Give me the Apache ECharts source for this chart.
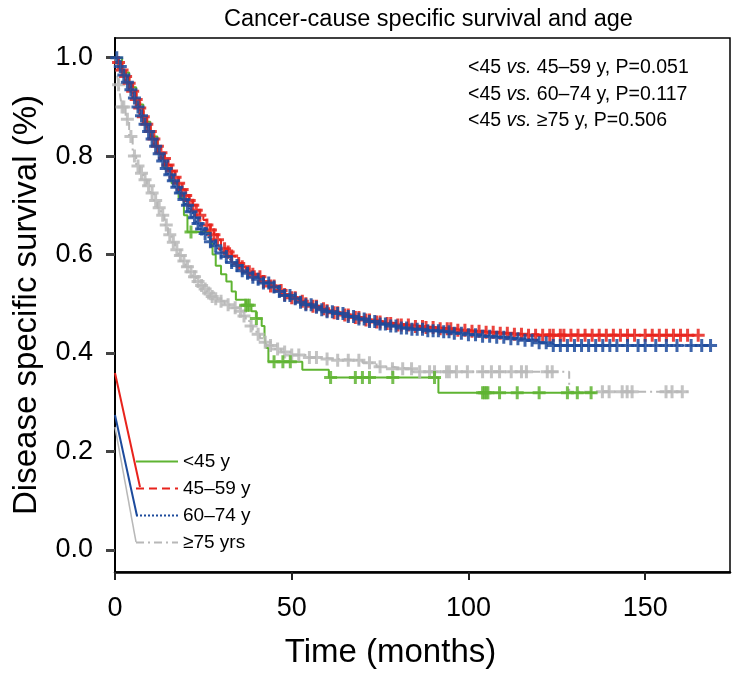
<html>
  <head>
    <meta charset="utf-8" />
    <title>Cancer-cause specific survival and age</title>
    <style>
      body { margin: 0; background: #fff; }
    </style>
  </head>
  <body>
    <div id="km" style="width: 734px; height: 675px"></div>
    <script src="https://cdn.jsdelivr.net/npm/echarts@6/dist/echarts.min.js"></script>
    <script type="text/javascript">
      // group names (legend)
      var groupNames = ["<45 y", "45\u201359 y", "60\u201374 y", "\u226575 yrs"];

      // Kaplan-Meier steps, [month, survival]
      var curveLt45 = [[0,1],[2,0.97],[4,0.94],[6,0.905],[8,0.87],[10,0.84],[12,0.805],[14,0.775],[16,0.745],[18,0.715],[19.5,0.68],[20.5,0.646],[27,0.622],[27.6,0.6],[28.5,0.577],[30,0.56],[31.5,0.545],[33,0.525],[34.2,0.508],[37,0.497],[38.6,0.485],[40,0.47],[41.5,0.455],[42.3,0.432],[42.8,0.41],[43.4,0.382],[53,0.366],[60.5,0.35],[91.5,0.319],[136,0.319]];
      var curve45to59 = [[0,1],[1,0.99],[2,0.975],[3,0.962],[4,0.948],[5,0.932],[6,0.915],[7,0.898],[8,0.88],[9,0.865],[10,0.85],[11,0.835],[12,0.82],[13,0.807],[14,0.795],[15,0.782],[16,0.77],[17,0.757],[18,0.745],[19,0.732],[20,0.72],[21,0.71],[22,0.7],[23,0.69],[24,0.68],[25,0.67],[26,0.66],[27,0.65],[28,0.64],[29,0.63],[30,0.62],[31,0.612],[32,0.605],[33,0.597],[34,0.59],[35,0.582],[36,0.575],[37,0.57],[38,0.565],[39,0.56],[40,0.555],[42,0.545],[44,0.536],[46,0.527],[48,0.519],[50,0.512],[52,0.505],[54,0.5],[56,0.495],[58,0.49],[60,0.486],[62,0.482],[65,0.477],[68,0.472],[71,0.467],[74,0.463],[77,0.46],[80,0.457],[84,0.454],[88,0.452],[92,0.449],[96,0.446],[100,0.444],[104,0.442],[108,0.44],[112,0.438],[116,0.436],[165,0.436]];
      var curve60to74 = [[0,1],[1,0.982],[2,0.965],[3,0.95],[4,0.935],[5,0.918],[6,0.9],[7,0.882],[8,0.865],[9,0.85],[10,0.835],[11,0.82],[12,0.805],[13,0.79],[14,0.775],[15,0.762],[16,0.75],[17,0.737],[18,0.725],[19,0.712],[20,0.7],[21,0.687],[22,0.675],[23,0.663],[24,0.652],[25,0.643],[26,0.635],[27,0.626],[28,0.618],[29,0.61],[30,0.603],[31,0.596],[32,0.59],[33,0.584],[34,0.578],[35,0.572],[36,0.567],[37,0.562],[38,0.558],[39,0.554],[40,0.55],[42,0.542],[44,0.534],[46,0.525],[48,0.517],[50,0.51],[52,0.503],[54,0.498],[56,0.493],[58,0.488],[60,0.484],[62,0.48],[65,0.474],[68,0.469],[71,0.464],[74,0.459],[77,0.455],[80,0.451],[84,0.448],[88,0.445],[92,0.443],[96,0.44],[100,0.437],[104,0.434],[108,0.432],[112,0.429],[116,0.426],[120,0.421],[124,0.415],[168.5,0.415]];
      var curveGe75 = [[0,1],[0.5,0.97],[1,0.945],[1.5,0.92],[2,0.9],[3,0.875],[4,0.84],[5,0.8],[6,0.78],[7,0.765],[8,0.752],[9,0.74],[10,0.725],[11,0.71],[12,0.695],[13,0.68],[14,0.66],[15,0.64],[16,0.625],[17,0.61],[18,0.598],[19,0.587],[20,0.575],[21,0.565],[22,0.555],[23,0.545],[24,0.537],[25,0.53],[26,0.522],[27,0.515],[28,0.51],[29,0.505],[31,0.498],[33,0.492],[35,0.485],[36,0.475],[37,0.465],[38,0.455],[39,0.447],[40,0.438],[41,0.43],[42,0.422],[43,0.415],[45,0.408],[47,0.402],[50,0.396],[54,0.391],[58,0.388],[63,0.385],[70,0.38],[74,0.372],[78,0.368],[84,0.362],[128.5,0.321],[163,0.321]];

      // censored times (months) for each group
      var censorLt45 = [21.5,37,37.5,38,40,45,47.5,49.6,61,68,70,72,78.6,90.4,104,104.5,105,105.5,108.8,113.8,120,128,130.8,134.7];
      var censor45to59 = [1,2,3,4,5,6,7,8,9,10,11,12,13,14,15,16,17,18,19,20,21,22,23,24,26,27,28,29,31,32,33,35,36,38,39,41,42,44,45,47,48,50,51,53,54,56,57,59,60,62,63,65,66,68,69,71,72,74,75,77,78,80,81,83,85,87,88,90,92,94,95,97,99,101,103,105,107,109,111,113,115,117,119,121,123,124,126,127,129,131,133,135,137,139,141,143,145,147,150,152,154,156,158,160,162,165];
      var censor60to74 = [0.5,1.5,2.5,3.5,4.5,5.5,6.5,7.5,8.5,9.5,10.5,11.5,12.5,13.5,14.5,15.5,16.5,17.5,18.5,19.5,20.5,21.5,22.5,23.5,24.5,25.5,27,28.5,30,31.5,33,34.5,36,37.5,39,40.5,42,43.5,45,46.5,48,49.5,51,52.5,54,55.5,57,58.5,60,61.5,63,64.5,66,67.5,69,70.5,72,73.5,75,76.5,78,79.5,81,82.5,84,85.5,87,88.5,90,91.5,93,94.5,96,98,100,102,104,106,108,110,112,114,116,118,120,122,124,126,128,130,132,134,136,138,140,142,145,148,150,153,156,159,163,166,168.5];
      var censorGe75 = [1,2,2.5,3.5,4.5,5.5,6.5,7.5,8.5,9.5,10.5,11.5,12.5,13.5,14.5,15.5,16.5,17.5,18.5,19.5,20.5,21.5,22.5,23.5,24.5,25.5,26.5,27.5,28.5,30,32,34,35.5,36.5,38.5,40.5,42.5,44,46,48,50,52,55,57,60,63,66,69,72,75,78.5,81.4,83.9,86.2,89,90.4,93.8,94.6,96.6,99.7,104,106.5,108.8,112.1,115,116.4,122.3,123.7,137.9,139.8,143.5,144.9,146.3,155.9,157.6,160.5];

      var xTicks = [0, 50, 100, 150];
      var yTicks = [0, 0.2, 0.4, 0.6, 0.8, 1.0];
      var pLines = [
        ["<45 ", "vs.", " 45\u201359 y, P=0.051"],
        ["<45 ", "vs.", " 60\u201374 y, P=0.117"],
        ["<45 ", "vs.", " \u226575 y, P=0.506"]
      ];

      var colors = ["#5fb432", "#e8231c", "#1c4a9c", "#b8b8b8"];
      var lineTypes = ["solid", [8, 5], [2, 2], [8, 4, 2, 4]];
      var curves = [curveLt45, curve45to59, curve60to74, curveGe75];
      var censors = [censorLt45, censor45to59, censor60to74, censorGe75];
      var plusPath = "path://M5,0H8V5H13V8H8V13H5V8H0V5H5Z";
      var font = "Liberation Sans, Arial, Helvetica, sans-serif";

      // survival value of a step curve at time t
      function survAt(curve, t) {
        var s = curve[0][1];
        for (var i = 0; i < curve.length; i++) {
          if (curve[i][0] <= t) s = curve[i][1];
        }
        return s;
      }

      var drawOrder = [3, 0, 1, 2];
      var series = [];
      drawOrder.forEach(function (g) {
        series.push({
          name: groupNames[g],
          type: "line",
          step: "end",
          symbol: "none",
          color: colors[g],
          lineStyle: { width: 2, type: lineTypes[g] },
          data: curves[g],
          z: 2
        });
      });
      drawOrder.forEach(function (g) {
        series.push({
          name: groupNames[g] + " censored",
          type: "scatter",
          symbol: plusPath,
          symbolSize: 13,
          itemStyle: { color: colors[g], opacity: 0.85 },
          data: censors[g].map(function (t) {
            return [t, survAt(curves[g], t)];
          }),
          z: 3
        });
      });

      var chart = echarts.init(document.getElementById("km"));
      chart.setOption({
        animation: false,
        textStyle: { fontFamily: font },
        title: {
          text: "Cancer-cause specific survival and age",
          left: 219,
          top: 3,
          textStyle: { fontSize: 23.5, fontWeight: "normal", color: "#000", fontFamily: font }
        },
        grid: {
          left: 115,
          right: 4,
          top: 38,
          bottom: 103,
          show: true,
          borderColor: "#000",
          borderWidth: 1.5
        },
        legend: {
          data: groupNames,
          orient: "vertical",
          left: 135,
          top: 452,
          padding: 0,
          itemWidth: 42,
          itemHeight: 14,
          itemGap: 8,
          itemStyle: { opacity: 0 },
          textStyle: { fontSize: 19, color: "#000" }
        },
        xAxis: {
          type: "value",
          min: 0,
          max: 174,
          name: "Time (months)",
          nameLocation: "middle",
          nameGap: 64,
          nameTextStyle: { fontSize: 33, color: "#000", padding: [0, 64, 0, 0] },
          axisLine: { onZero: false, lineStyle: { color: "#000", width: 2.5 } },
          axisTick: { length: 8, lineStyle: { color: "#222", width: 2 }, customValues: xTicks },
          axisLabel: { fontSize: 27, color: "#000", margin: 23, customValues: xTicks },
          splitLine: { show: false }
        },
        yAxis: {
          type: "value",
          min: -0.045,
          max: 1.04,
          name: "Disease specific survival (%)",
          nameLocation: "middle",
          nameGap: 72,
          nameTextStyle: { fontSize: 33, color: "#000" },
          axisLine: { show: true, onZero: false, lineStyle: { color: "#000", width: 2 } },
          axisTick: { show: true, length: 9, lineStyle: { color: "#444", width: 3 }, customValues: yTicks },
          axisLabel: {
            fontSize: 27,
            color: "#000",
            margin: 22,
            customValues: yTicks,
            formatter: function (v) { return v.toFixed(1); }
          },
          splitLine: { show: false }
        },
        graphic: [
          {
            type: "text",
            left: 468,
            top: 58,
            style: {
              text: pLines.map(function (l) {
                return "{n|" + l[0] + "}{i|" + l[1] + "}{n|" + l[2] + "}";
              }).join("\n"),
              rich: {
                n: { fontSize: 19.5, fontFamily: font, fill: "#000", lineHeight: 26.5 },
                i: { fontSize: 19.5, fontFamily: font, fill: "#000", fontStyle: "italic", lineHeight: 26.5 }
              }
            }
          },
          // legend leader strokes from the R legend
          { type: "polyline", shape: { points: [[115, 373], [140, 487]] }, style: { stroke: colors[1], lineWidth: 2 }, z: 5 },
          { type: "polyline", shape: { points: [[115, 415], [137, 516]] }, style: { stroke: colors[2], lineWidth: 2 }, z: 5 },
          { type: "polyline", shape: { points: [[115, 427], [136, 542]] }, style: { stroke: colors[3], lineWidth: 1.5 }, z: 5 }
        ],
        series: series
      });
    </script>
  </body>
</html>
